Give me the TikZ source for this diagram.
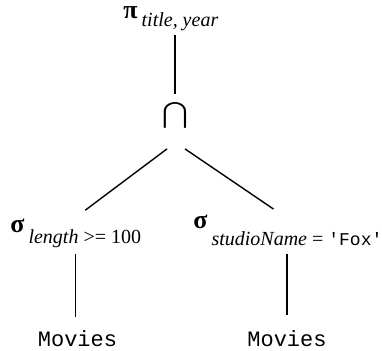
\documentclass[tikz,border=0pt]{standalone}
\usepackage{fontspec}
\setmainfont{Liberation Serif}
\setmonofont{Liberation Mono}
\usetikzlibrary{calc}
\tikzstyle{op-name}=[rectangle, draw=none, inner sep=0pt, anchor=base west]
\tikzstyle{relation}=[rectangle, draw=none, inner sep=0pt, anchor=base, font=\fontsize{11}{13}\selectfont\ttfamily]
\tikzstyle{edge}=[line width=0.7pt, black]
\newcommand{\opgreek}[1]{{\fontsize{13}{15}\selectfont\bfseries #1}}
\newcommand{\opsub}[2]{\raisebox{-#1}{\fontsize{10}{12}\selectfont #2}}

\begin{document}
\begin{tikzpicture}[x=0.5pt, y=-0.5pt]
    \useasboundingbox (0,0) rectangle (382,350);
    \node (proj) [op-name] at (123,18) {\opgreek{π}\hspace{2pt}\opsub{4pt}{\itshape title, year}};
    \node (inter) [inner sep=0pt] at (175,115.5) {\scalebox{1.55}[1.3]{$\bigcap$}};
    
    \node (selL) [op-name] at (10,232) {\opgreek{σ}\hspace{2pt}\opsub{5.5pt}{\textit{length} >= 100}};
    \node (selR) [op-name] at (193,228) {\opgreek{σ}\hspace{2pt}\opsub{8.5pt}{\textit{studioName} =\hspace{2.5pt}{\ttfamily\fontsize{9}{11}\selectfont 'Fox'}}};
    
    \node (movL) [relation] at (77.5,346) {Movies};
    \node (movR) [relation] at (287,346) {Movies};
    
    \draw[edge, shorten <=4pt, shorten >=2.2pt] (inter.north) -- (inter.north |- proj.south);
    \draw[edge, shorten >=6.5pt] ([xshift=-4pt, yshift=-10pt] inter.south) -- ([xshift=-0.5pt] selL.north);
    \draw[edge, shorten >=4.5pt] ([xshift=5pt, yshift=-10pt] inter.south) -- ([xshift=-3.5pt] selR.north);
    
    \draw[edge, shorten <=3.2pt, shorten >=6.5pt] (selL.south) -- (selL.south |- movL.north);
    \draw[edge, shorten <=4pt, shorten >=7.5pt] (movR.north |- selR.south) -- (movR.north);
\end{tikzpicture}
\end{document}
